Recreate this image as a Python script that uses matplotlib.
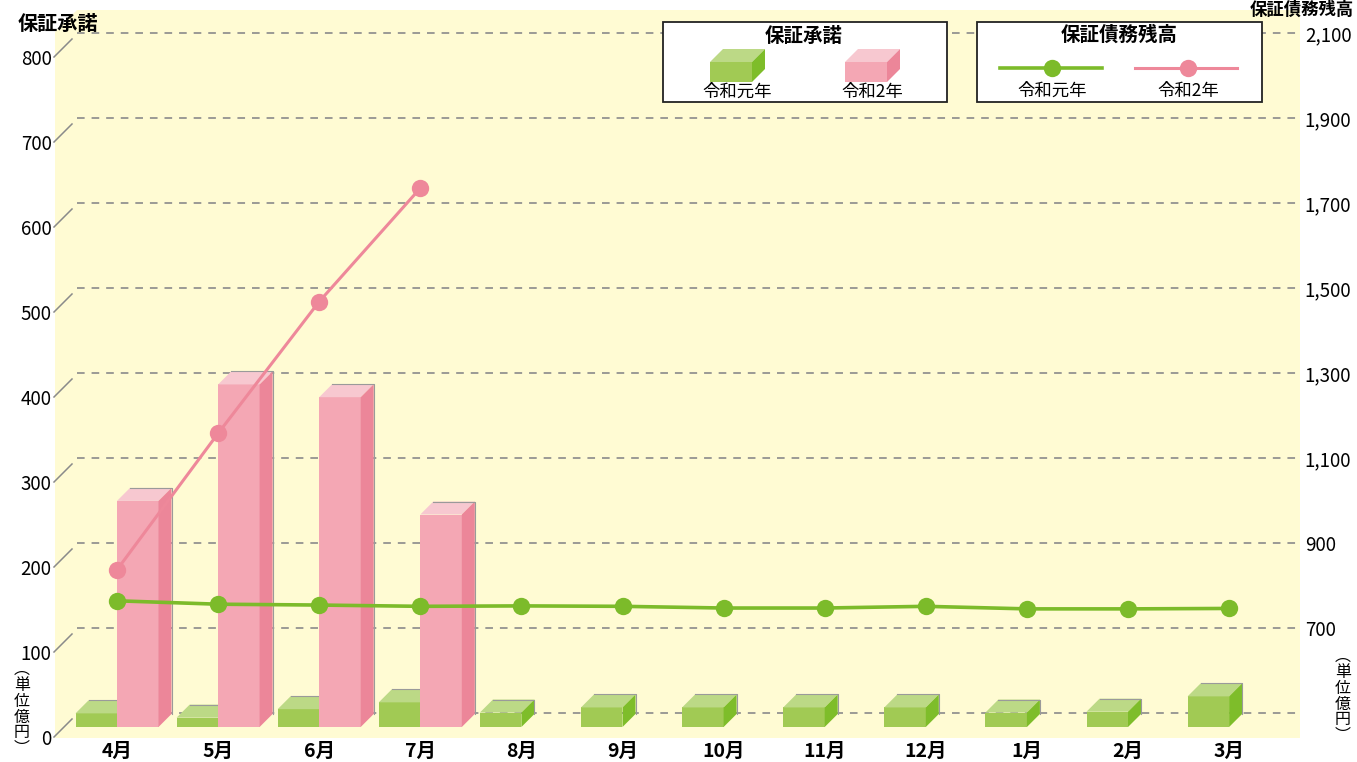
import matplotlib
matplotlib.use('Agg')
import matplotlib.pyplot as plt
from matplotlib.patches import Polygon, Rectangle
from matplotlib.transforms import Affine2D
from matplotlib.lines import Line2D

plt.rcParams['font.family'] = ['Noto Sans CJK JP', 'DejaVu Sans']
plt.rcParams['lines.scale_dashes'] = False

# ---------------- data ----------------
months = ['4月', '5月', '6月', '7月', '8月', '9月', '10月', '11月', '12月', '1月', '2月', '3月']
series_names = ['令和元年', '令和2年']
guar_r1 = [16, 11, 21, 29, 17, 23, 23, 23, 23, 17, 18, 36]        # 保証承諾 令和元年
guar_r2 = [266, 403, 388, 250]                                     # 保証承諾 令和2年
bal_r1 = [764, 756, 754, 751, 752, 751, 747, 747, 751, 745, 745, 746]  # 保証債務残高 令和元年
bal_r2 = [837, 1158, 1468, 1735]                                   # 保証債務残高 令和2年
left_ticks = [0, 100, 200, 300, 400, 500, 600, 700, 800]
right_ticks = [700, 900, 1100, 1300, 1500, 1700, 1900, 2100]
right_labels = ['700', '900', '1,100', '1,300', '1,500', '1,700', '1,900', '2,100']
left_title = '保証承諾'
right_title = '保証債務残高'
unit_label = '︵\n単\n位\n億\n円\n︶'

# ---------------- styles ----------------
YELLOW = '#FFFBD3'
G_FRONT, G_TOP, G_SIDE = '#A1CA54', '#BCD986', '#7EBD2A'
P_FRONT, P_TOP, P_SIDE = '#F4A7B4', '#F7C8D0', '#EC8699'
G_LINE, P_LINE = '#7CBB2A', '#EE889A'
GRID = '#8a8a8a'
EDGE = '#9a9a9a'

W, H = 1357, 762
fig = plt.figure(figsize=(W / 100, H / 100), dpi=100)
TP = Affine2D().scale(1 / W, -1 / H).translate(0, 1) + fig.transFigure  # pixel coords from top-left

# layout (pixels)
AX_L, AX_R, AX_T, AX_B = 55, 1300, 10, 738
Y0 = 727          # bar base (front face)
PPU = 0.85        # pixels per left-axis unit
X0 = 117          # first category centre
DXC = 101.1       # pixels per category
DEPTH = 13        # bar depth in px
BACK_DY = 14      # back wall offset above bar front
FRONT_DY = 10     # front label plane below bar front
R0, RK = 500, 2   # right axis value at back-plane zero, right units per left unit

pos = [AX_L / W, 1 - AX_B / H, (AX_R - AX_L) / W, (AX_B - AX_T) / H]
xlim = ((AX_L - X0) / DXC, (AX_R - X0) / DXC)

def xpx(p):
    return (p - X0) / DXC

# yellow wall
fig.add_artist(Polygon([(AX_L, AX_B), (AX_L, 32), (77, AX_T), (AX_R, AX_T), (AX_R, AX_B)],
                       closed=True, transform=TP, facecolor=YELLOW, edgecolor='none', zorder=-1))

# front-plane axes for left labels and month labels
axL = fig.add_axes(pos, zorder=0)
axL.set_xlim(xlim)
axL.set_ylim((Y0 + FRONT_DY - AX_B) / PPU, (Y0 + FRONT_DY - AX_T) / PPU)
axL.patch.set_visible(False)
for s in axL.spines.values():
    s.set_visible(False)
axL.set_yticks(left_ticks)
axL.set_yticklabels([str(v) for v in left_ticks], fontsize=13.5)
axL.tick_params(axis='y', length=0, pad=2.5)
axL.set_xticks(range(len(months)))
axL.set_xticklabels(months, fontsize=14, fontweight='bold')
axL.tick_params(axis='x', length=0, pad=2.5)
for v in left_ticks:
    axL.plot([xpx(54), xpx(72)], [v, v + 18 / PPU], color=GRID, lw=1.1, clip_on=False)

# bar axes
ax = fig.add_axes(pos, zorder=1)
ax.set_xlim(xlim)
ax.set_ylim(-(AX_B - Y0) / PPU, (Y0 - AX_T) / PPU)
ax.axis('off')

ax.hlines([v + BACK_DY / PPU for v in left_ticks], xpx(77), xpx(1299), colors=GRID,
          linewidth=1.2, linestyles=(0, (5.5, 5.0)), zorder=0.5)

bw = 41.5 / DXC
ddx = DEPTH / DXC
ddy = DEPTH / PPU

def bar3d(xc, h, front, top, side, z):
    xl, xr = xc - bw / 2, xc + bw / 2
    ax.bar(xc, h, width=bw, color=front, zorder=z, linewidth=0)
    ax.add_patch(Polygon([(xl, h), (xr, h), (xr + ddx, h + ddy), (xl + ddx, h + ddy)],
                         closed=True, facecolor=top, edgecolor='none', zorder=z))
    ax.add_patch(Polygon([(xr, 0), (xr + ddx, ddy), (xr + ddx, h + ddy), (xr, h)],
                         closed=True, facecolor=side, edgecolor='none', zorder=z))
    ax.plot([xl + ddx, xr + ddx, xr + ddx], [h + ddy, h + ddy, ddy], color=EDGE, lw=0.8, zorder=z)

for i, v in enumerate(guar_r1):
    bar3d(i - bw / 2, v, G_FRONT, G_TOP, G_SIDE, 2)
for i, v in enumerate(guar_r2):
    bar3d(i + bw / 2, v, P_FRONT, P_TOP, P_SIDE, 3)

# line axes (right)
ax2 = ax.twinx()
ax2.set_zorder(2)
ax2.set_xlim(xlim)
ax2.set_ylim(R0 + RK * ((Y0 - BACK_DY) - AX_B) / PPU, R0 + RK * ((Y0 - BACK_DY) - AX_T) / PPU)
ax2.patch.set_visible(False)
for s in ax2.spines.values():
    s.set_visible(False)
ax2.set_yticks(right_ticks)
ax2.set_yticklabels(right_labels, fontsize=13.5)
ax2.tick_params(axis='y', length=0, pad=3.5)
ax2.plot(range(len(bal_r1)), bal_r1, color=G_LINE, lw=2.6, marker='o', ms=12.5, mew=0, zorder=5)
ax2.plot(range(len(bal_r2)), bal_r2, color=P_LINE, lw=2.2, marker='o', ms=12.5, mew=0, zorder=6)

# titles and unit labels
fig.text(18, 23, left_title, transform=TP, fontsize=14.5, fontweight='bold', ha='left', va='center')
fig.text(1354, 1, right_title, transform=TP, fontsize=12.5, fontweight='bold', ha='right', va='top')
fig.text(22, 709, unit_label, transform=TP, fontsize=11.5, ha='center', va='center', linespacing=0.92)
fig.text(1343, 696, unit_label, transform=TP, fontsize=11.5, ha='center', va='center', linespacing=0.92)

# legend 1: 保証承諾
fig.add_artist(Rectangle((663, 22), 284, 80, transform=TP, facecolor='white', edgecolor='#222222',
                         linewidth=1.3, zorder=10))
fig.text(804, 36, left_title, transform=TP, fontsize=14, fontweight='bold', ha='center', va='center', zorder=11)

def legend_cube(x, y, w, h, d, front, top, side):
    fig.add_artist(Rectangle((x, y), w, h, transform=TP, facecolor=front, edgecolor='none', zorder=11))
    fig.add_artist(Polygon([(x, y), (x + w, y), (x + w + d, y - d), (x + d, y - d)], closed=True,
                           transform=TP, facecolor=top, edgecolor='none', zorder=11))
    fig.add_artist(Polygon([(x + w, y), (x + w + d, y - d), (x + w + d, y + h - d), (x + w, y + h)],
                           closed=True, transform=TP, facecolor=side, edgecolor='none', zorder=11))

legend_cube(710, 62, 42, 20, 13, G_FRONT, G_TOP, G_SIDE)
legend_cube(845, 62, 42, 20, 13, P_FRONT, P_TOP, P_SIDE)
fig.text(737, 92, series_names[0], transform=TP, fontsize=12.5, ha='center', va='center', zorder=11)
fig.text(872, 92, series_names[1], transform=TP, fontsize=12.5, ha='center', va='center', zorder=11)

# legend 2: 保証債務残高
fig.add_artist(Rectangle((977, 22), 285, 80, transform=TP, facecolor='white', edgecolor='#222222',
                         linewidth=1.3, zorder=10))
fig.text(1119, 35, right_title, transform=TP, fontsize=14, fontweight='bold', ha='center', va='center', zorder=11)
fig.add_artist(Line2D([1000, 1102], [68, 68], transform=TP, color=G_LINE, lw=2.6, zorder=11))
fig.add_artist(Line2D([1052], [68], transform=TP, color=G_LINE, marker='o', ms=12.5, mew=0, zorder=12))
fig.add_artist(Line2D([1135, 1237], [68, 68], transform=TP, color=P_LINE, lw=2.2, zorder=11))
fig.add_artist(Line2D([1188], [68], transform=TP, color=P_LINE, marker='o', ms=12.5, mew=0, zorder=12))
fig.text(1052, 91, series_names[0], transform=TP, fontsize=12.5, ha='center', va='center', zorder=11)
fig.text(1188, 91, series_names[1], transform=TP, fontsize=12.5, ha='center', va='center', zorder=11)

fig.savefig('out.png', dpi=100, facecolor='white')
